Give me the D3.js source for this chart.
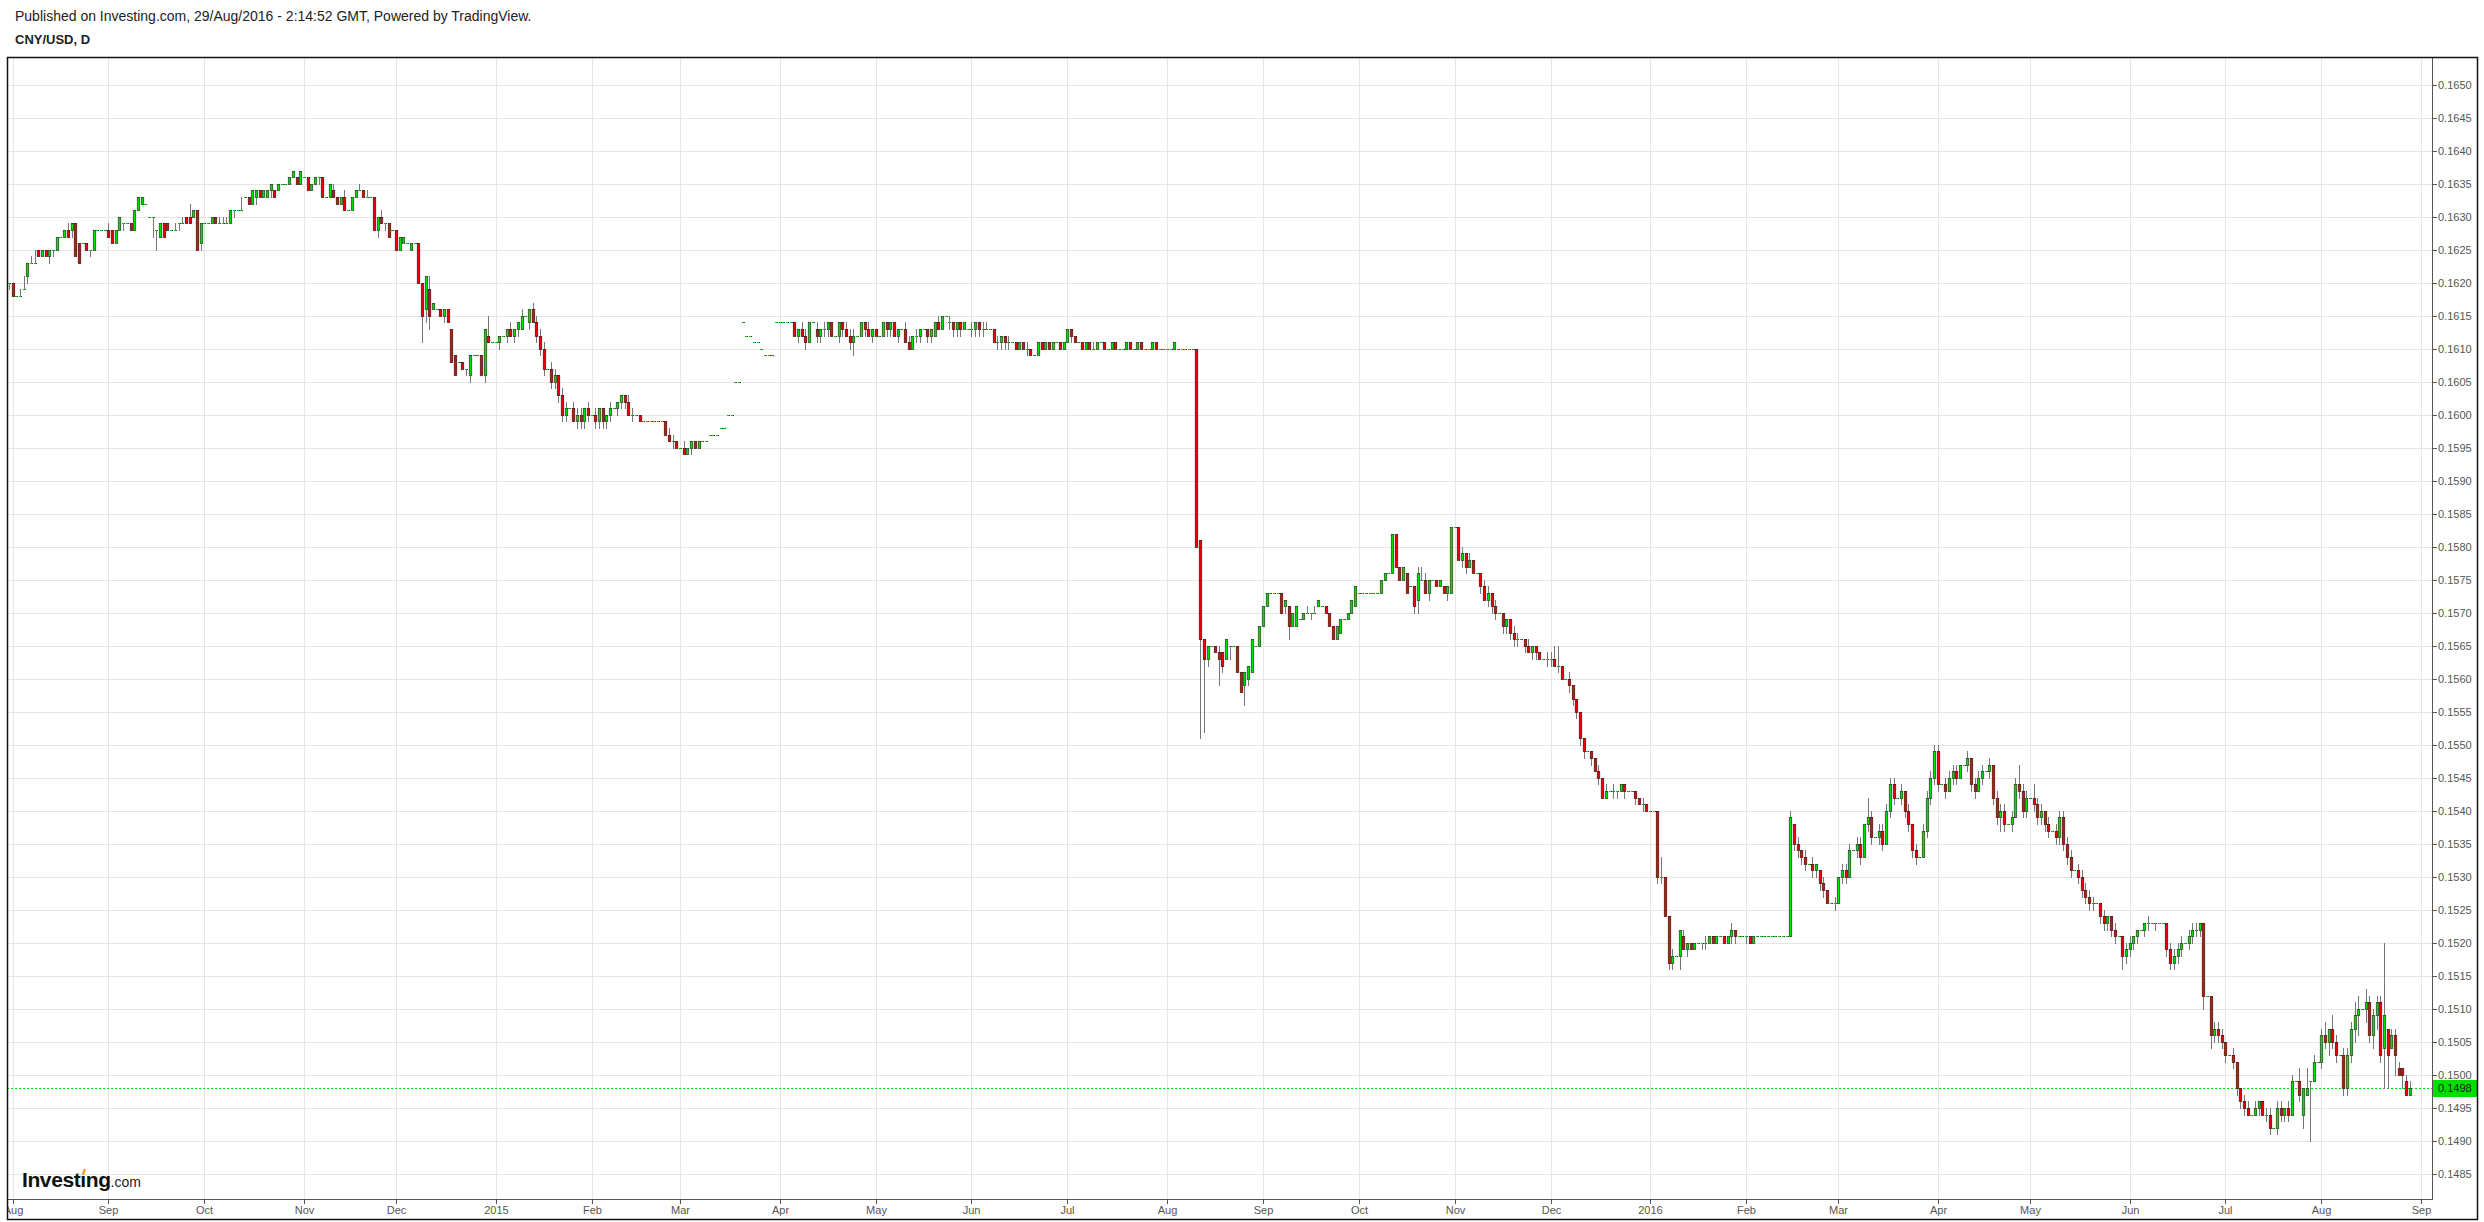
<!DOCTYPE html>
<html>
<head>
<meta charset="utf-8">
<script src="https://d3js.org/d3.v7.min.js"></script>
<style>
  body { margin: 0; background: #fff; }
  svg { display: block; font-family: "Liberation Sans", Arial, sans-serif; }
</style>
</head>
<body>
<svg id="chart" width="2484" height="1222"></svg>
<script>
// daily bars, Sunday to Friday, prices in 1/10000 (open, high, low, close)
let jul14 = [[1620,1620,1619,1620]];
let aug14 = [
  [1620,1620,1618,1618],
  [1618,1618,1618,1618],[1618,1619,1618,1618],[1619,1621,1619,1619],[1621,1623,1620,1623],[1623,1624,1623,1623],[1623,1625,1623,1623],
  [1625,1625,1624,1624],[1624,1625,1624,1625],[1625,1625,1624,1624],[1624,1625,1623,1625],[1625,1625,1624,1625],[1625,1627,1625,1627],
  [1627,1627,1627,1627],[1627,1628,1627,1628],[1628,1629,1627,1627],[1628,1629,1627,1629],[1629,1629,1624,1624],[1626,1626,1623,1623],
  [1626,1626,1626,1626],[1626,1626,1625,1625],[1625,1625,1624,1625],[1625,1628,1625,1628],[1628,1628,1628,1628],[1628,1628,1628,1628],
  [1628,1628,1628,1628]
];
let sep14 = [
  [1628,1629,1627,1627],[1628,1628,1626,1626],[1626,1628,1626,1628],[1628,1630,1628,1630],[1629,1629,1628,1629],
  [1629,1629,1629,1629],[1629,1629,1628,1628],[1628,1631,1628,1631],[1631,1633,1631,1633],[1632,1633,1632,1633],[1632,1632,1632,1632],
  [1630,1630,1630,1630],[1630,1630,1627,1630],[1628,1628,1625,1628],[1627,1629,1627,1629],[1629,1629,1627,1627],[1629,1629,1628,1628],
  [1628,1628,1628,1628],[1628,1629,1628,1628],[1629,1629,1628,1629],[1629,1630,1629,1629],[1630,1630,1629,1629],[1630,1632,1629,1629],
  [1630,1631,1630,1631],[1631,1631,1625,1625],[1626,1629,1625,1629]
];
let oct14 = [
  [1629,1629,1629,1629],[1629,1629,1629,1629],[1629,1630,1629,1630],
  [1630,1630,1629,1629],[1629,1630,1629,1629],[1629,1630,1629,1629],[1629,1630,1629,1629],[1629,1631,1629,1631],[1631,1631,1630,1631],
  [1631,1631,1631,1631],[1631,1633,1631,1631],[1633,1633,1633,1633],[1633,1633,1632,1632],[1632,1634,1632,1634],[1633,1634,1632,1634],
  [1634,1634,1633,1633],[1633,1634,1633,1634],[1633,1634,1633,1634],[1634,1635,1633,1635],[1634,1634,1633,1633],[1634,1635,1634,1635],
  [1635,1635,1635,1635],[1635,1635,1635,1635],[1635,1636,1635,1636],[1636,1637,1636,1637],[1636,1636,1635,1635],[1635,1637,1635,1637]
];
let nov14 = [
  [1636,1636,1636,1636],[1636,1636,1634,1634],[1634,1635,1634,1635],[1635,1636,1635,1636],[1636,1636,1635,1636],[1636,1636,1633,1633],
  [1633,1633,1633,1633],[1633,1635,1633,1635],[1634,1635,1633,1633],[1633,1633,1632,1632],[1632,1633,1632,1633],[1633,1634,1631,1631],
  [1631,1631,1631,1631],[1631,1633,1631,1633],[1633,1634,1633,1634],[1634,1635,1634,1634],[1634,1634,1633,1633],[1633,1634,1633,1633],
  [1633,1633,1633,1633],[1633,1633,1628,1628],[1628,1630,1627,1630],[1630,1631,1629,1629],[1629,1629,1628,1629],[1629,1629,1627,1627],
  [1628,1628,1628,1628]
];
let dec14 = [
  [1628,1628,1625,1625],[1625,1627,1625,1627],[1626,1627,1626,1627],[1626,1626,1626,1626],[1625,1626,1625,1626],
  [1626,1626,1626,1626],[1626,1626,1620,1620],[1620,1620,1611,1615],[1616,1621,1614,1621],[1619,1621,1613,1615],[1616,1617,1616,1617],
  [1616,1616,1616,1616],[1616,1616,1615,1615],[1615,1616,1614,1616],[1616,1616,1614,1614],[1613,1613,1608,1608],[1609,1609,1606,1606],
  [1608,1608,1608,1608],[1608,1608,1607,1607],[1607,1607,1606,1607],[1606,1609,1605,1609],[1609,1609,1609,1609],[1609,1609,1609,1609],
  [1609,1609,1606,1606],[1606,1613,1605,1613],[1612,1615,1611,1611],[1611,1611,1611,1611]
];
let jan15 = [
  [1611,1611,1611,1611],[1611,1612,1610,1612],
  [1612,1612,1612,1612],[1612,1613,1611,1613],[1613,1614,1612,1612],[1612,1613,1611,1613],[1613,1614,1612,1614],[1613,1616,1613,1615],
  [1615,1615,1615,1615],[1614,1616,1613,1616],[1616,1617,1614,1614],[1614,1615,1611,1612],[1612,1613,1609,1610],[1610,1611,1606,1607],
  [1607,1607,1607,1607],[1607,1608,1604,1605],[1605,1607,1604,1606],[1606,1606,1602,1603],[1603,1604,1599,1600],[1600,1602,1599,1601],
  [1601,1601,1601,1601],[1601,1602,1599,1599],[1599,1601,1598,1600],[1600,1601,1598,1599],[1599,1601,1598,1601],[1601,1602,1599,1600]
];
let feb15 = [
  [1600,1600,1600,1600],
  [1600,1601,1598,1599],[1599,1601,1598,1601],[1601,1601,1598,1599],[1599,1600,1598,1600],[1600,1602,1599,1601],
  [1601,1601,1601,1601],[1601,1602,1600,1602],[1602,1603,1601,1603],[1603,1603,1601,1602],[1602,1603,1600,1600],[1600,1601,1599,1600],
  [1600,1600,1600,1600],[1600,1600,1599,1599],[1599,1599,1599,1599],[1599,1599,1599,1599],[1599,1599,1599,1599],[1599,1599,1599,1599],
  [1599,1599,1599,1599],[1599,1599,1599,1599],[1599,1599,1597,1597],[1597,1598,1596,1596],[1596,1597,1595,1596],[1596,1596,1595,1595]
];
let mar15 = [
  [1595,1595,1595,1595],
  [1595,1596,1594,1594],[1594,1595,1594,1595],[1595,1596,1594,1596],[1596,1596,1595,1595],[1595,1596,1595,1596],
  [1596,1596,1596,1596],[1596,1596,1596,1596],[1597,1597,1597,1597],[1597,1597,1597,1597],[1597,1597,1597,1597],[1598,1598,1598,1598],
  [1598,1598,1598,1598],[1600,1600,1600,1600],[1600,1600,1600,1600],[1605,1605,1605,1605],[1605,1605,1605,1605],[1614,1614,1614,1614],
  [1612,1612,1612,1612],[1612,1612,1612,1612],[1611,1611,1611,1611],[1611,1611,1611,1611],[1610,1610,1610,1610],[1609,1609,1609,1609],
  [1609,1609,1609,1609],[1609,1609,1609,1609],[1614,1614,1614,1614]
];
let apr15 = [
  [1614,1614,1614,1614],[1614,1614,1614,1614],[1614,1614,1614,1614],
  [1614,1614,1614,1614],[1614,1614,1612,1612],[1612,1613,1611,1613],[1613,1614,1612,1612],[1612,1613,1610,1611],[1611,1614,1611,1614],
  [1614,1614,1614,1614],[1613,1614,1611,1612],[1612,1613,1611,1613],[1613,1614,1612,1613],[1613,1614,1612,1614],[1614,1614,1612,1612],
  [1612,1612,1612,1612],[1612,1614,1611,1614],[1614,1614,1612,1613],[1613,1614,1612,1612],[1612,1613,1610,1611],[1611,1613,1609,1612],
  [1612,1612,1612,1612],[1612,1614,1612,1614],[1614,1614,1612,1613],[1613,1614,1612,1612],[1612,1613,1611,1613]
];
let may15 = [
  [1613,1613,1612,1612],
  [1612,1612,1612,1612],[1612,1614,1612,1614],[1614,1614,1612,1613],[1613,1614,1612,1614],[1614,1614,1612,1612],[1612,1613,1611,1613],
  [1613,1613,1613,1613],[1613,1614,1611,1611],[1611,1612,1610,1610],[1610,1612,1610,1612],[1612,1613,1611,1612],[1612,1613,1611,1613],
  [1613,1613,1613,1613],[1613,1613,1611,1612],[1612,1613,1611,1613],[1612,1614,1612,1614],[1614,1615,1613,1613],[1613,1615,1613,1615],
  [1615,1615,1615,1615],[1614,1615,1613,1614],[1614,1614,1612,1613],[1613,1614,1612,1614],[1614,1614,1612,1613],[1613,1614,1613,1614],
  [1613,1613,1613,1613]
];
let jun15 = [
  [1613,1614,1612,1613],[1613,1614,1612,1614],[1614,1614,1612,1613],[1613,1614,1612,1613],[1613,1614,1613,1613],
  [1613,1613,1613,1613],[1613,1613,1611,1611],[1611,1612,1610,1611],[1611,1612,1610,1612],[1612,1612,1610,1611],[1611,1612,1610,1611],
  [1611,1611,1611,1611],[1611,1611,1610,1610],[1610,1611,1610,1611],[1611,1611,1610,1610],[1610,1611,1609,1610],[1610,1610,1609,1609],
  [1609,1609,1609,1609],[1609,1611,1609,1611],[1611,1611,1610,1610],[1610,1611,1610,1611],[1611,1611,1610,1610],[1610,1611,1610,1611],
  [1611,1611,1611,1611],[1611,1611,1610,1610],[1610,1611,1610,1611]
];
let jul15 = [
  [1611,1613,1611,1613],[1613,1613,1611,1612],[1612,1612,1611,1611],
  [1611,1611,1611,1611],[1611,1611,1610,1610],[1610,1611,1610,1611],[1611,1611,1610,1610],[1610,1611,1610,1610],[1610,1611,1610,1611],
  [1611,1611,1611,1611],[1611,1611,1610,1610],[1610,1610,1610,1610],[1610,1611,1610,1611],[1611,1611,1610,1610],[1610,1610,1610,1610],
  [1610,1610,1610,1610],[1610,1611,1610,1611],[1611,1611,1610,1610],[1610,1610,1610,1610],[1610,1611,1610,1611],[1611,1611,1610,1610],
  [1610,1610,1610,1610],[1610,1610,1610,1610],[1610,1611,1610,1611],[1611,1611,1610,1610],[1610,1610,1610,1610],[1610,1610,1610,1610]
];
let aug15 = [
  [1610,1610,1610,1610],[1610,1610,1610,1610],[1610,1611,1610,1611],[1610,1610,1610,1610],[1610,1610,1610,1610],[1610,1610,1610,1610],
  [1610,1610,1610,1610],[1610,1610,1610,1610],[1610,1610,1580,1580],[1581,1581,1551,1566],[1566,1566,1552,1563],[1563,1565,1562,1565],
  [1565,1565,1565,1565],[1565,1565,1564,1564],[1564,1565,1559,1563],[1564,1564,1561,1562],[1563,1566,1563,1566],[1565,1565,1563,1565],
  [1565,1565,1565,1565],[1565,1565,1561,1561],[1561,1561,1558,1558],[1559,1561,1556,1561],[1560,1562,1559,1562],[1561,1566,1561,1566],
  [1565,1565,1565,1565],[1565,1568,1565,1568]
];
let sep15 = [
  [1568,1571,1568,1571],[1571,1573,1571,1573],[1573,1573,1573,1573],[1573,1573,1573,1573],
  [1573,1573,1573,1573],[1573,1573,1570,1570],[1571,1572,1570,1572],[1571,1571,1566,1568],[1568,1570,1568,1570],[1568,1571,1568,1571],
  [1569,1569,1569,1569],[1569,1570,1569,1570],[1570,1571,1570,1570],[1570,1570,1569,1570],[1570,1571,1570,1570],[1571,1572,1571,1572],
  [1571,1571,1571,1571],[1571,1571,1570,1570],[1570,1570,1568,1568],[1568,1568,1566,1566],[1566,1568,1566,1568],[1567,1569,1567,1569],
  [1569,1569,1569,1569],[1569,1570,1569,1570],[1570,1572,1570,1572],[1571,1574,1571,1574]
];
let oct15 = [
  [1573,1573,1573,1573],[1573,1573,1573,1573],
  [1573,1573,1573,1573],[1573,1573,1573,1573],[1573,1573,1573,1573],[1573,1573,1573,1573],[1573,1575,1573,1575],[1575,1576,1575,1576],
  [1576,1576,1576,1576],[1576,1582,1576,1582],[1582,1582,1577,1577],[1577,1577,1575,1575],[1575,1577,1575,1577],[1576,1576,1573,1573],
  [1574,1574,1574,1574],[1574,1574,1570,1571],[1572,1577,1570,1576],[1575,1577,1575,1575],[1575,1576,1573,1573],[1573,1575,1572,1575],
  [1575,1575,1575,1575],[1575,1575,1574,1574],[1574,1575,1574,1575],[1574,1574,1573,1573],[1573,1574,1572,1574],[1573,1583,1573,1583]
];
let nov15 = [
  [1583,1583,1583,1583],
  [1583,1583,1578,1578],[1578,1580,1577,1579],[1579,1579,1576,1577],[1577,1579,1577,1578],[1578,1578,1576,1576],
  [1576,1576,1576,1576],[1576,1576,1573,1574],[1574,1575,1572,1572],[1572,1574,1571,1573],[1573,1573,1570,1571],[1571,1572,1569,1570],
  [1570,1570,1570,1570],[1570,1570,1567,1568],[1568,1569,1567,1569],[1569,1569,1566,1567],[1567,1568,1565,1566],[1566,1567,1565,1566],
  [1566,1566,1566,1566],[1566,1566,1564,1565],[1565,1566,1564,1564],[1564,1565,1563,1565],[1565,1565,1563,1564],[1564,1564,1563,1563],
  [1563,1563,1563,1563],[1563,1564,1562,1563]
];
let dec15 = [
  [1563,1564,1562,1563],[1563,1565,1562,1562],[1562,1565,1561,1562],[1562,1562,1560,1560],
  [1560,1560,1560,1560],[1560,1561,1558,1559],[1559,1559,1556,1557],[1557,1557,1554,1555],[1555,1555,1550,1551],[1551,1551,1548,1549],
  [1549,1549,1549,1549],[1549,1549,1547,1548],[1548,1548,1546,1546],[1546,1547,1544,1545],[1545,1545,1542,1542],[1542,1544,1542,1543],
  [1543,1543,1543,1543],[1543,1544,1542,1543],[1543,1543,1542,1543],[1543,1544,1543,1544],[1544,1544,1542,1543],[1543,1543,1543,1543],
  [1543,1543,1543,1543],[1543,1543,1541,1542],[1542,1542,1541,1541],[1541,1542,1540,1541],[1541,1541,1540,1540]
];
let jan16 = [
  [1540,1540,1540,1540],
  [1540,1540,1540,1540],[1540,1540,1529,1530],[1530,1533,1529,1530],[1530,1530,1524,1524],[1524,1524,1516,1517],[1517,1519,1516,1518],
  [1518,1518,1518,1518],[1518,1522,1516,1522],[1521,1522,1519,1519],[1519,1520,1518,1520],[1520,1520,1519,1519],[1519,1520,1519,1520],
  [1520,1520,1520,1520],[1520,1520,1519,1520],[1520,1521,1519,1520],[1520,1521,1520,1521],[1521,1521,1520,1520],[1520,1521,1520,1521],
  [1521,1521,1521,1521],[1521,1521,1520,1520],[1520,1521,1520,1521],[1521,1523,1520,1522],[1522,1522,1520,1521],[1521,1521,1521,1521],
  [1521,1521,1521,1521]
];
let feb16 = [
  [1521,1521,1520,1521],[1521,1521,1520,1520],[1520,1521,1520,1521],[1521,1521,1521,1521],[1521,1521,1521,1521],
  [1521,1521,1521,1521],[1521,1521,1521,1521],[1521,1521,1521,1521],[1521,1521,1521,1521],[1521,1521,1521,1521],[1521,1521,1521,1521],
  [1521,1521,1521,1521],[1521,1540,1521,1539],[1538,1538,1534,1535],[1535,1536,1533,1534],[1534,1534,1532,1533],[1533,1534,1531,1532],
  [1532,1532,1532,1532],[1532,1533,1530,1531],[1531,1532,1530,1532],[1531,1531,1528,1529],[1529,1530,1527,1528],[1528,1528,1526,1526],
  [1526,1526,1526,1526],[1526,1527,1525,1526]
];
let mar16 = [
  [1526,1530,1526,1530],[1530,1532,1529,1531],[1531,1532,1529,1530],[1530,1535,1530,1534],
  [1534,1534,1534,1534],[1534,1536,1533,1535],[1535,1536,1532,1533],[1533,1538,1533,1538],[1538,1542,1537,1539],[1539,1540,1535,1536],
  [1536,1536,1536,1536],[1536,1538,1535,1537],[1537,1538,1534,1535],[1535,1541,1535,1540],[1540,1545,1539,1544],[1544,1545,1541,1542],
  [1542,1542,1542,1542],[1542,1544,1541,1543],[1543,1543,1539,1540],[1540,1541,1537,1538],[1538,1538,1533,1534],[1534,1535,1532,1533],
  [1533,1533,1533,1533],[1533,1538,1533,1537],[1537,1543,1536,1542],[1542,1546,1541,1545],[1545,1550,1544,1549]
];
let apr16 = [
  [1549,1550,1543,1544],
  [1544,1544,1544,1544],[1544,1545,1542,1543],[1543,1546,1543,1545],[1545,1547,1544,1546],[1546,1547,1544,1545],[1545,1547,1545,1547],
  [1547,1547,1547,1547],[1547,1549,1546,1548],[1548,1548,1543,1544],[1544,1545,1542,1543],[1543,1546,1543,1545],[1545,1547,1544,1546],
  [1546,1546,1546,1546],[1546,1548,1545,1547],[1547,1547,1541,1542],[1542,1543,1538,1539],[1539,1541,1537,1540],[1540,1541,1537,1538],
  [1538,1538,1538,1538],[1538,1540,1537,1539],[1539,1545,1539,1544],[1544,1547,1542,1543],[1543,1544,1539,1540],[1540,1543,1539,1542]
];
let may16 = [
  [1542,1542,1542,1542],
  [1542,1544,1540,1541],[1541,1542,1538,1539],[1539,1541,1538,1540],[1540,1540,1537,1538],[1538,1539,1536,1537],
  [1537,1537,1537,1537],[1537,1538,1535,1536],[1536,1540,1535,1539],[1539,1540,1534,1535],[1535,1536,1532,1533],[1533,1534,1530,1531],
  [1531,1531,1531,1531],[1531,1532,1529,1530],[1530,1531,1527,1528],[1528,1529,1526,1527],[1527,1528,1525,1526],[1526,1527,1525,1526],
  [1526,1526,1526,1526],[1526,1526,1523,1524],[1524,1525,1522,1523],[1523,1524,1522,1524],[1524,1524,1521,1522],[1522,1523,1520,1521],
  [1521,1521,1521,1521],[1521,1521,1516,1518],[1518,1520,1517,1519]
];
let jun16 = [
  [1519,1521,1518,1520],[1520,1521,1519,1521],[1521,1522,1520,1522],
  [1522,1522,1522,1522],[1522,1523,1521,1523],[1523,1524,1522,1523],[1523,1523,1523,1523],[1523,1523,1522,1523],[1523,1523,1523,1523],
  [1523,1523,1523,1523],[1523,1523,1518,1519],[1519,1520,1516,1517],[1517,1519,1516,1518],[1518,1520,1517,1519],[1519,1521,1518,1520],
  [1520,1520,1520,1520],[1520,1522,1519,1521],[1521,1523,1520,1522],[1522,1523,1521,1522],[1522,1523,1521,1523],[1523,1523,1510,1512],
  [1512,1512,1512,1512],[1512,1512,1504,1506],[1506,1508,1505,1507],[1507,1508,1505,1506],[1506,1507,1504,1505]
];
let jul16 = [
  [1505,1505,1502,1503],
  [1503,1503,1503,1503],[1503,1504,1501,1502],[1502,1502,1497,1498],[1498,1498,1495,1496],[1496,1497,1494,1495],[1495,1496,1494,1494],
  [1494,1494,1494,1494],[1494,1496,1494,1495],[1495,1496,1494,1496],[1496,1496,1494,1494],[1494,1495,1493,1494],[1494,1495,1491,1492],
  [1492,1492,1492,1492],[1492,1496,1491,1495],[1495,1496,1493,1494],[1494,1495,1493,1495],[1495,1496,1493,1494],[1494,1500,1494,1499],
  [1499,1499,1499,1499],[1499,1501,1496,1497],[1494,1498,1492,1498],[1497,1501,1497,1498],[1499,1499,1490,1499],[1499,1503,1499,1502],
  [1502,1502,1502,1502]
];
let aug16 = [
  [1502,1507,1501,1506],[1506,1508,1504,1505],[1505,1507,1503,1507],[1507,1509,1504,1505],[1505,1506,1502,1503],
  [1503,1503,1503,1503],[1503,1504,1497,1498],[1498,1504,1497,1503],[1503,1508,1502,1507],[1507,1511,1505,1509],[1509,1512,1506,1510],
  [1510,1510,1510,1510],[1510,1513,1508,1511],[1511,1512,1505,1506],[1506,1510,1504,1509],[1509,1512,1507,1511],[1511,1512,1502,1503],
  [1504,1520,1498,1509],[1507,1507,1498,1503],[1504,1507,1504,1506],[1506,1507,1500,1503],[1501,1502,1500,1500],[1501,1501,1498,1500],
  [1499,1500,1497,1497],[1497,1499,1497,1498]
];

let monthNames = ["Jan","Feb","Mar","Apr","May","Jun","Jul","Aug","Sep","Oct","Nov","Dec"];
let priceTicks = d3.range(1485, 1651, 5);   // in 1/10000
let lastPrice = 1498;

let headerText = "Published on Investing.com, 29/Aug/2016 - 2:14:52 GMT, Powered by TradingView.";
let symbolText = "CNY/USD, D";

// ---------------------------------------------------------------

let allBars = [].concat(jul14, aug14, sep14, oct14, nov14, dec14,
  jan15, feb15, mar15, apr15, may15, jun15, jul15, aug15, sep15, oct15, nov15, dec15,
  jan16, feb16, mar16, apr16, may16, jun16, jul16, aug16);

let bars = allBars.map((b, i) => ({ i: i, o: b[0] / 1e4, h: b[1] / 1e4, l: b[2] / 1e4, c: b[3] / 1e4 }));

// calendar of bar days (no Saturdays), a few extra days for the last tick
let days = [];
let day = new Date(2014, 6, 31);
while (days.length < bars.length + 5) {
  if (day.getDay() !== 6) days.push(new Date(day));
  day.setDate(day.getDate() + 1);
}

let monthTicks = [];
days.forEach((d, i) => {
  if (i > 0 && d.getMonth() !== days[i - 1].getMonth()) {
    monthTicks.push({ i: i, label: d.getMonth() === 0 ? String(d.getFullYear()) : monthNames[d.getMonth()] });
  }
});

let plot = { left: 7, top: 57, right: 2432, bottom: 1199 };
let frame = { left: 7, top: 57, right: 2477, bottom: 1219 };

let x = d3.scaleLinear().domain([-0.5, 657]).range([plot.left, plot.right]);
let y = d3.scaleLinear().domain([0.14812, 0.16542]).range([plot.bottom, plot.top]);

let svg = d3.select("#chart");

let defs = svg.append("defs");
defs.append("clipPath").attr("id", "plotClip")
  .append("rect").attr("x", plot.left).attr("y", plot.top)
  .attr("width", plot.right - plot.left).attr("height", plot.bottom - plot.top);
defs.append("clipPath").attr("id", "timeClip")
  .append("rect").attr("x", plot.left + 1).attr("y", plot.bottom)
  .attr("width", plot.right - plot.left - 2).attr("height", frame.bottom - plot.bottom);

// grid
let grid = svg.append("g").attr("shape-rendering", "crispEdges");
grid.selectAll("line.hg")
  .data(priceTicks)
  .join("line")
  .attr("class", "hg")
  .attr("x1", plot.left).attr("x2", plot.right)
  .attr("y1", d => Math.round(y(d / 1e4)) + 0.5)
  .attr("y2", d => Math.round(y(d / 1e4)) + 0.5)
  .attr("stroke", "#e6e6e6");
grid.selectAll("line.vg")
  .data(monthTicks)
  .join("line")
  .attr("class", "vg")
  .attr("x1", d => Math.round(x(d.i)) + 0.5)
  .attr("x2", d => Math.round(x(d.i)) + 0.5)
  .attr("y1", plot.top).attr("y2", plot.bottom)
  .attr("stroke", "#e6e6e6");

// last price line
svg.append("line")
  .attr("x1", plot.left).attr("x2", plot.right)
  .attr("y1", Math.round(y(lastPrice / 1e4)) + 0.5)
  .attr("y2", Math.round(y(lastPrice / 1e4)) + 0.5)
  .attr("stroke", "#00e000")
  .attr("stroke-dasharray", "2,2")
  .attr("shape-rendering", "crispEdges");

// candles
let candles = svg.append("g").attr("clip-path", "url(#plotClip)");

candles.selectAll("line.wick")
  .data(bars.filter(d => d.h > Math.max(d.o, d.c) || d.l < Math.min(d.o, d.c)))
  .join("line")
  .attr("class", "wick")
  .attr("x1", d => Math.round(x(d.i)) + 0.5)
  .attr("x2", d => Math.round(x(d.i)) + 0.5)
  .attr("y1", d => Math.round(y(d.h)))
  .attr("y2", d => Math.round(y(d.l)) + 1)
  .attr("stroke", "#777777")
  .attr("shape-rendering", "crispEdges");

let bodyTop = d => Math.round(y(Math.max(d.o, d.c)));
let bodyBottom = d => Math.round(y(Math.min(d.o, d.c)));

let solid = bars.filter(d => bodyBottom(d) - bodyTop(d) >= 2);
let flat = bars.filter(d => bodyBottom(d) - bodyTop(d) < 2);

candles.selectAll("rect.body")
  .data(solid)
  .join("rect")
  .attr("class", "body")
  .attr("x", d => Math.round(x(d.i)) + 0.5 - 1.2)
  .attr("y", d => bodyTop(d) + 0.4)
  .attr("width", 2.4)
  .attr("height", d => bodyBottom(d) - bodyTop(d))
  .attr("fill", d => d.c >= d.o ? "#00e000" : "#ee0000")
  .attr("stroke", d => d.c >= d.o ? "#2a4a2a" : "#4a1a1a")
  .attr("stroke-width", 0.8);

let dojis = candles.append("g").attr("shape-rendering", "crispEdges");
dojis.selectAll("rect.doji")
  .data(flat)
  .join("rect")
  .attr("class", "doji")
  .attr("x", d => Math.round(x(d.i)) - 1)
  .attr("y", d => bodyTop(d))
  .attr("width", 3)
  .attr("height", 1)
  .attr("fill", "#13c013");
dojis.selectAll("rect.dojiEnd")
  .data(flat)
  .join("rect")
  .attr("class", "dojiEnd")
  .attr("x", d => Math.round(x(d.i)) + 1)
  .attr("y", d => bodyTop(d))
  .attr("width", 1)
  .attr("height", 1)
  .attr("fill", "#245224");

// axes
let axes = svg.append("g").attr("shape-rendering", "crispEdges").attr("stroke", "#555");
axes.append("line")
  .attr("x1", plot.right + 0.5).attr("x2", plot.right + 0.5)
  .attr("y1", plot.top).attr("y2", plot.bottom + 1);
axes.append("line")
  .attr("x1", plot.left).attr("x2", plot.right + 1)
  .attr("y1", plot.bottom + 0.5).attr("y2", plot.bottom + 0.5);
axes.selectAll("line.pt")
  .data(priceTicks)
  .join("line")
  .attr("class", "pt")
  .attr("x1", plot.right).attr("x2", plot.right + 5)
  .attr("y1", d => Math.round(y(d / 1e4)) + 0.5)
  .attr("y2", d => Math.round(y(d / 1e4)) + 0.5);
axes.selectAll("line.tt")
  .data(monthTicks)
  .join("line")
  .attr("class", "tt")
  .attr("x1", d => Math.round(x(d.i)) + 0.5)
  .attr("x2", d => Math.round(x(d.i)) + 0.5)
  .attr("y1", plot.bottom).attr("y2", plot.bottom + 5);

svg.append("g").selectAll("text")
  .data(priceTicks)
  .join("text")
  .attr("x", plot.right + 6)
  .attr("y", d => Math.round(y(d / 1e4)) + 4)
  .attr("font-size", 11)
  .attr("fill", "#555")
  .text(d => (d / 1e4).toFixed(4));

svg.append("g").attr("clip-path", "url(#timeClip)").selectAll("text")
  .data(monthTicks)
  .join("text")
  .attr("x", d => Math.round(x(d.i)) + 0.5)
  .attr("y", plot.bottom + 15)
  .attr("text-anchor", "middle")
  .attr("font-size", 11)
  .attr("fill", "#555")
  .text(d => d.label);

// last price label
let ly = Math.round(y(lastPrice / 1e4));
svg.append("rect")
  .attr("x", plot.right + 1).attr("y", ly - 8)
  .attr("width", frame.right - plot.right - 1).attr("height", 17)
  .attr("fill", "#00dd00");
svg.append("text")
  .attr("x", plot.right + 6).attr("y", ly + 4)
  .attr("font-size", 11)
  .attr("fill", "#1a1a1a")
  .text((lastPrice / 1e4).toFixed(4));

// logo
let logo = svg.append("text").attr("x", 22).attr("y", 1187);
logo.append("tspan").attr("font-size", 21).attr("font-weight", "bold").attr("fill", "#111")
  .attr("letter-spacing", -0.4).text("Invest\u0131ng");
logo.append("tspan").attr("font-size", 14).attr("fill", "#222").text(".com");
let iPos = logo.node().getExtentOfChar(6);
svg.append("path")
  .attr("d", `M${iPos.x + 1.5},${1175} L${iPos.x + 3.3},${1169} L${iPos.x + 5.6},${1169} L${iPos.x + 3.8},${1175} Z`)
  .attr("fill", "#f59b14");

// header
svg.append("text").attr("x", 15).attr("y", 21).attr("font-size", 14).attr("fill", "#222").text(headerText);
svg.append("text").attr("x", 15).attr("y", 44).attr("font-size", 13).attr("font-weight", "bold").attr("fill", "#222").text(symbolText);

// frame
svg.append("rect")
  .attr("x", frame.left + 0.5).attr("y", frame.top + 0.5)
  .attr("width", frame.right - frame.left).attr("height", frame.bottom - frame.top)
  .attr("fill", "none").attr("stroke", "#111").attr("stroke-width", 1.5);
</script>
</body>
</html>
